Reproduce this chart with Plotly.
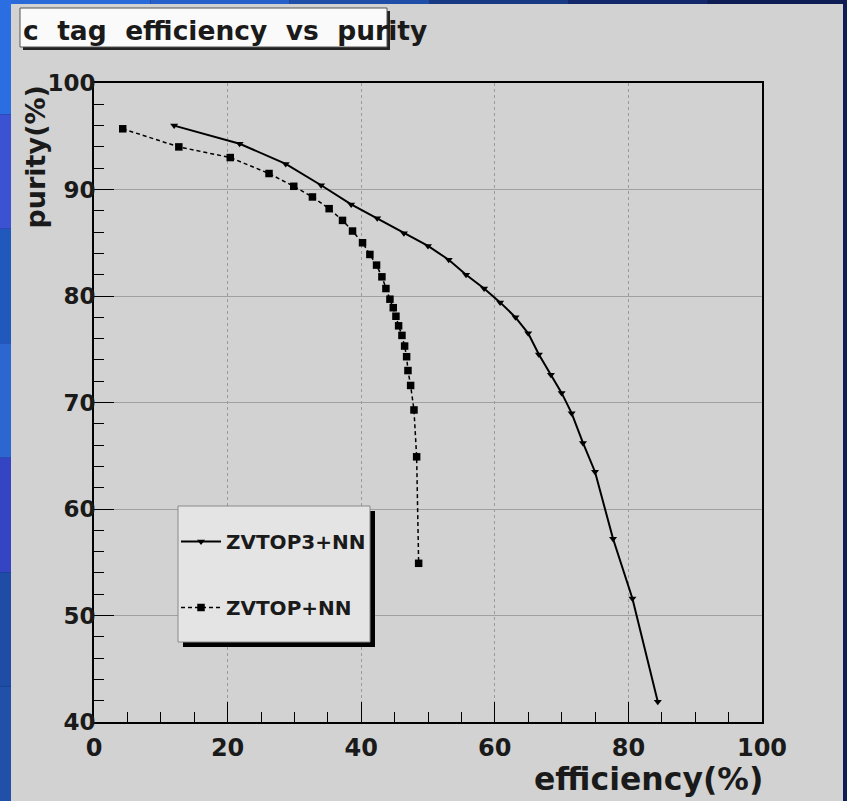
import plotly.graph_objects as go

# ---- data ----
eff_zvtop3 = [12.0, 21.8, 28.7, 34.0, 38.5, 42.4, 46.4, 50.0, 53.1, 55.7, 58.4, 60.8,
              63.1, 65.0, 66.6, 68.4, 70.0, 71.5, 73.2, 75.0, 77.7, 80.6, 84.4]
pur_zvtop3 = [96.0, 94.3, 92.4, 90.4, 88.6, 87.3, 85.9, 84.7, 83.4, 82.0, 80.7, 79.4,
              78.0, 76.5, 74.5, 72.6, 70.9, 69.0, 66.2, 63.5, 57.2, 51.6, 41.9]
eff_zvtop = [4.3, 12.7, 20.4, 26.2, 29.9, 32.7, 35.2, 37.2, 38.7, 40.2, 41.3, 42.3, 43.1,
             43.7, 44.3, 44.8, 45.2, 45.6, 46.1, 46.5, 46.8, 47.0, 47.4, 47.9, 48.3, 48.6]
pur_zvtop = [95.7, 94.0, 93.0, 91.5, 90.3, 89.3, 88.2, 87.1, 86.1, 85.0, 83.9, 82.9, 81.8,
             80.7, 79.7, 78.9, 78.1, 77.2, 76.3, 75.3, 74.3, 73.0, 71.6, 69.3, 64.9, 54.9]
series_names = ["ZVTOP3+NN", "ZVTOP+NN"]
x_ticks = [0, 20, 40, 60, 80, 100]
y_ticks = [40, 50, 60, 70, 80, 90, 100]
title_text = "c\u00a0\u00a0tag\u00a0\u00a0efficiency\u00a0\u00a0vs\u00a0\u00a0purity"
x_title = "efficiency(%)"
y_title = "purity(%)"

# ---- geometry helpers (pixel -> paper) ----
W, H = 847, 801
L, R, T, B = 94, 85, 83, 79
PW, PH = W - L - R, H - T - B


def px(x):
    return (x - L) / PW


def py(y):
    return (H - B - y) / PH


FONT = "DejaVu Sans"

fig = go.Figure()
fig.add_trace(go.Scatter(
    x=eff_zvtop3, y=pur_zvtop3, name=series_names[0], mode="lines+markers",
    line=dict(color="black", width=2),
    marker=dict(symbol="triangle-down", size=7, color="black"),
    legendgroup="a"))
fig.add_trace(go.Scatter(
    x=eff_zvtop, y=pur_zvtop, name=series_names[1], mode="lines+markers",
    line=dict(color="black", width=1.5, dash="4px,3px"),
    marker=dict(symbol="square", size=7.5, color="black"),
    legendgroup="b"))

shapes = []
# slide background strips (blue gradient approximation)
left_cols = ["#2b6ee2", "#3b52d2", "#2058bc", "#2c66d0", "#3444c2", "#1f4ca4", "#2050a8"]
n = len(left_cols)
for i, c in enumerate(left_cols):
    shapes.append(dict(type="rect", xref="paper", yref="paper", layer="below",
                       x0=px(0), x1=px(11), y0=py(i * H / n), y1=py((i + 1) * H / n),
                       fillcolor=c, line=dict(width=0)))
top_cols = ["#2a6ad8", "#2660c8", "#1f4ea8", "#183a84", "#12286a", "#0f1d55"]
m = len(top_cols)
for i, c in enumerate(top_cols):
    shapes.append(dict(type="rect", xref="paper", yref="paper", layer="below",
                       x0=px(11 + i * (W - 11) / m), x1=px(11 + (i + 1) * (W - 11) / m),
                       y0=py(0), y1=py(4), fillcolor=c, line=dict(width=0)))
# grey canvas panel
shapes.append(dict(type="rect", xref="paper", yref="paper", layer="below",
                   x0=px(11), x1=px(843), y0=py(4), y1=py(H),
                   fillcolor="#d2d2d2", line=dict(width=0)))
# title box shadow + box
shapes.append(dict(type="rect", xref="paper", yref="paper", layer="above",
                   x0=px(23), x1=px(390), y0=py(11), y1=py(50),
                   fillcolor="#222222", line=dict(width=0)))
shapes.append(dict(type="rect", xref="paper", yref="paper", layer="above",
                   x0=px(20), x1=px(387), y0=py(8), y1=py(47),
                   fillcolor="#fafafa", line=dict(color="#555555", width=1)))
# legend shadow + box
shapes.append(dict(type="rect", xref="paper", yref="paper", layer="above",
                   x0=px(183), x1=px(375), y0=py(511), y1=py(647),
                   fillcolor="#000000", line=dict(width=0)))
shapes.append(dict(type="rect", xref="paper", yref="paper", layer="above",
                   x0=px(178), x1=px(370), y0=py(506), y1=py(642),
                   fillcolor="#e4e4e4", line=dict(color="#8a8a8a", width=1)))

annotations = [
    dict(text=title_text, xref="paper", yref="paper", x=px(21), y=py(31),
         xanchor="left", yanchor="middle", showarrow=False,
         font=dict(family=FONT, size=26.5, color="#1a1a1a", weight="bold")),
    dict(text=x_title, xref="paper", yref="paper", x=px(765), y=py(799),
         xanchor="right", yanchor="bottom", showarrow=False,
         font=dict(family=FONT, size=31.5, color="#1a1a1a", weight="bold")),
    dict(text=y_title, xref="paper", yref="paper", x=px(35), y=py(84),
         xanchor="center", yanchor="top", textangle=-90, showarrow=False,
         font=dict(family=FONT, size=27, color="#1a1a1a", weight="bold")),
]

fig.update_layout(
    width=W, height=H,
    margin=dict(l=L, r=R, t=T, b=B),
    paper_bgcolor="#0f1d55",
    plot_bgcolor="white",
    shapes=shapes,
    annotations=annotations,
    showlegend=True,
    legend=dict(x=px(176), y=py(522), xanchor="left", yanchor="top",
                bgcolor="rgba(0,0,0,0)", borderwidth=0,
                font=dict(family=FONT, size=20, color="#1a1a1a", weight="bold"),
                traceorder="grouped", tracegroupgap=37, itemwidth=40),
    xaxis=dict(range=[0, 100], tickvals=x_ticks, ticktext=[str(v) for v in x_ticks],
               ticks="inside", ticklen=20, tickwidth=1.2, tickcolor="black",
               minor=dict(dtick=5, ticks="inside", ticklen=10, tickcolor="black",
                          showgrid=False),
               showgrid=True, gridcolor="#9a9a9a", griddash="dot", gridwidth=1,
               showline=True, linecolor="black", linewidth=2, mirror=True,
               zeroline=False, ticklabelstandoff=3,
               tickfont=dict(family=FONT, size=24, color="#1a1a1a", weight="bold")),
    yaxis=dict(range=[40, 100], tickvals=y_ticks, ticktext=[str(v) for v in y_ticks],
               ticks="inside", ticklen=20, tickwidth=1.2, tickcolor="black",
               minor=dict(dtick=2, ticks="inside", ticklen=10, tickcolor="black",
                          showgrid=False),
               showgrid=True, gridcolor="#a0a0a0", gridwidth=1,
               showline=True, linecolor="black", linewidth=2, mirror=True,
               zeroline=False, ticklabelstandoff=-8,
               tickfont=dict(family=FONT, size=23, color="#1a1a1a", weight="bold")),
)

fig.write_html("out.html", config={"displayModeBar": False},
               post_script="document.body.style.margin='0';document.body.style.overflow='hidden';")
